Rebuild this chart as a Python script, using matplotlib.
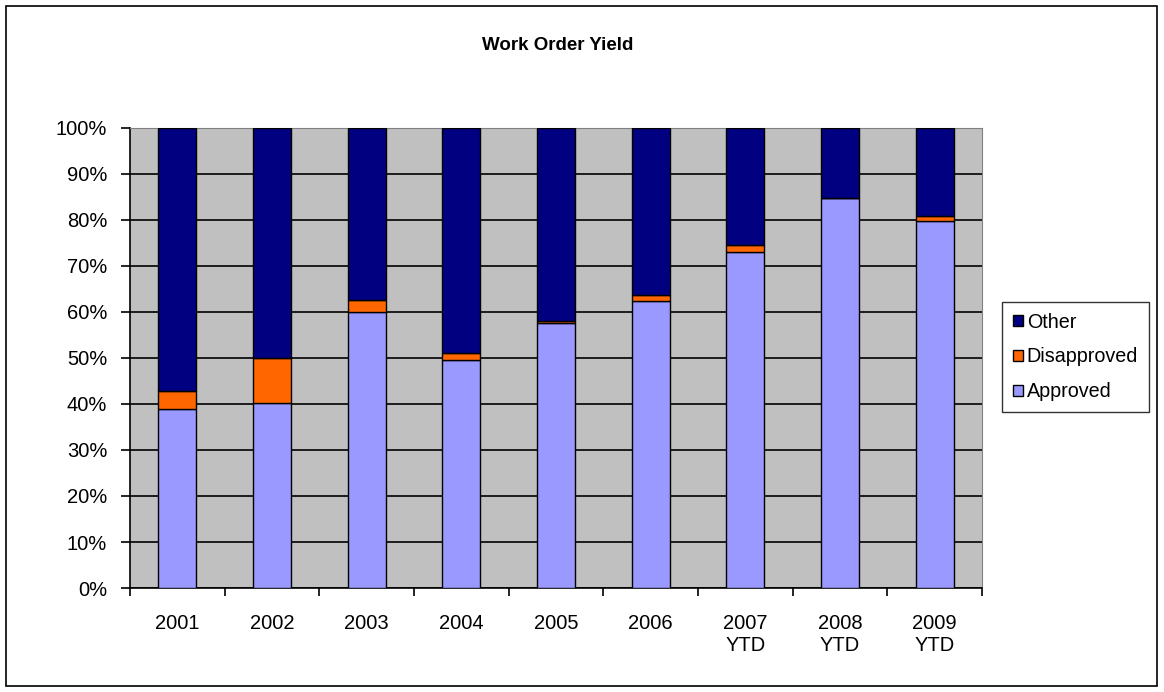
import matplotlib
matplotlib.use("Agg")
import matplotlib.pyplot as plt
from matplotlib.patches import Rectangle
import numpy as np

plt.rcParams['font.family'] = ['Liberation Sans', 'DejaVu Sans']

years = ['2001', '2002', '2003', '2004', '2005', '2006', '2007\nYTD', '2008\nYTD', '2009\nYTD']
approved = [39.0, 40.3, 60.1, 49.6, 57.6, 62.3, 73.0, 84.8, 79.8]
disapproved = [3.9, 9.8, 2.4, 1.4, 0.4, 1.3, 1.5, 0.0, 1.0]
other = [100 - a - d for a, d in zip(approved, disapproved)]

fig = plt.figure(figsize=(11.64, 6.92), dpi=100)
fig.patches.append(Rectangle((6 / 1164, 6 / 692), 1151 / 1164, 680 / 692,
                             transform=fig.transFigure, fill=False, edgecolor='black', lw=1.2))
ax = fig.add_axes([130 / 1164, 1 - 588 / 692, 852 / 1164, 460 / 692])
ax.set_facecolor('#C0C0C0')

x = np.arange(len(years))
w = 0.4
ax.bar(x, approved, w, color='#9999FF', edgecolor='black', lw=1, label='Approved', zorder=3)
ax.bar(x, disapproved, w, bottom=approved, color='#FF6600', edgecolor='black', lw=1,
       label='Disapproved', zorder=3)
bot = [a + d for a, d in zip(approved, disapproved)]
ax.bar(x, other, w, bottom=bot, color='#000080', edgecolor='black', lw=1, label='Other', zorder=3)

ax.set_xlim(-0.5, len(years) - 0.5)
ax.set_ylim(0, 100)
ax.set_yticks(range(0, 101, 10))
ax.set_yticklabels([f'{v}%' for v in range(0, 101, 10)], fontsize=14.5)
ax.yaxis.grid(True, color='black', lw=1.2, zorder=1)
ax.set_xticks(x)
ax.set_xticklabels(years, fontsize=14.5, va='top', linespacing=1.15)
ax.set_xticks(np.arange(-0.5, len(years)), minor=True)
ax.tick_params(axis='x', which='major', length=0, pad=19)
ax.tick_params(axis='x', which='minor', length=6, width=1.2, direction='out')
ax.tick_params(axis='y', length=6.5, width=1.2, direction='out', pad=10)
for s in ['top', 'right']:
    ax.spines[s].set_color('#808080')
for s in ['left', 'bottom']:
    ax.spines[s].set_color('black')
    ax.spines[s].set_linewidth(1.2)

fig.text(558 / 1164, 1 - 46 / 692, 'Work Order Yield', ha='center', va='center',
         fontsize=13.5, fontweight='bold')

h, l = ax.get_legend_handles_labels()
leg = fig.legend(h[::-1], l[::-1], loc='center left', bbox_to_anchor=(1002 / 1164, 1 - 357 / 692),
                 fontsize=14.2, frameon=True, fancybox=False, edgecolor='black',
                 handlelength=0.5, handleheight=0.5, handletextpad=0.2,
                 labelspacing=0.8, borderpad=0.55, borderaxespad=0)
leg.get_frame().set_linewidth(1)

fig.savefig('out.png', dpi=100)
